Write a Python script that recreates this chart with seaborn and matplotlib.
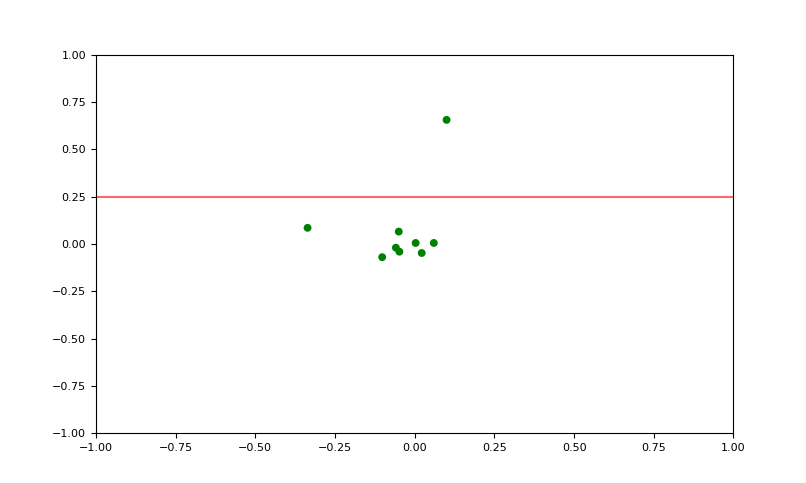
import numpy as np
import seaborn as sns
import matplotlib.pyplot as plt
import pandas as pd

# values
x_vals = [-0.336, -0.050, -0.059, -0.048, -0.102, 0.003, 0.060, 0.022, 0.100]
y_vals = [0.085, 0.065, -0.020, -0.041, -0.070, 0.005, 0.005, -0.048, 0.655]
threshold = 0.25
ticks = [-1.0, -0.75, -0.5, -0.25, 0.0, 0.25, 0.5, 0.75, 1.0]

df = pd.DataFrame({'x': x_vals, 'y': y_vals})

sns.set_style('ticks')
plt.rcParams['font.family'] = ['DejaVu Sans']

fig = plt.figure(figsize=(8.06, 4.83), dpi=100)
ax = fig.add_axes([0.119, 0.103, 0.791, 0.784])
sns.scatterplot(data=df, x='x', y='y', color='green', s=32, edgecolor='none', ax=ax)
ax.axhline(threshold, color='red', alpha=0.6, lw=1.5)

ax.set_xlim(-1, 1)
ax.set_ylim(-1, 1)
ax.set_xticks(ticks)
ax.set_yticks(ticks)
fmt = plt.FuncFormatter(lambda v, p: ('%.2f' % v).replace('-', '\u2212'))
ax.xaxis.set_major_formatter(fmt)
ax.yaxis.set_major_formatter(fmt)
ax.tick_params(labelsize=8, length=3.5, width=0.8, colors='black')
for sp in ax.spines.values():
    sp.set_visible(True)
    sp.set_linewidth(0.8)
    sp.set_color('black')
ax.set_xlabel('')
ax.set_ylabel('')

fig.savefig('out.png', dpi=100)
